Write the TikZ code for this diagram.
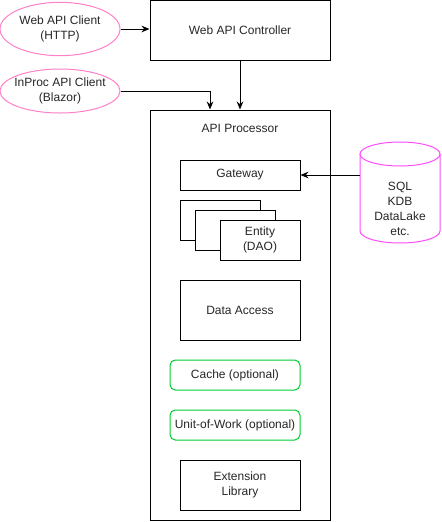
\documentclass[tikz,border=0pt]{standalone}
\usepackage{fontspec}
\setmainfont{Liberation Sans}
\usetikzlibrary{arrows.meta,shapes.geometric,positioning}
\definecolor{pinkc}{HTML}{FF80C8}
\definecolor{magc}{HTML}{FF4DFF}
\definecolor{greenc}{HTML}{00CC33}
\tikzset{
  txt/.style={font=\fontsize{9}{11.25}\selectfont, align=center, text=black!85},
  box/.style={draw, line width=0.75pt, rectangle, inner sep=0pt, txt},
  optbox/.style={draw=greenc, line width=0.75pt, rounded corners=4pt, rectangle, inner sep=0pt, txt},
  client/.style={draw=pinkc, line width=0.75pt, ellipse, inner xsep=-3pt, inner ysep=0pt, minimum width=90pt, txt},
  arr/.style={line width=0.75pt, -{Stealth[length=6pt,width=5pt]}}
}
\begin{document}
\begin{tikzpicture}[x=0.75pt,y=-0.75pt]
\useasboundingbox (0,0) rectangle (442,522);
% clients
\node[client, minimum height=40pt] (web) at (60,29) {Web API Client\\(HTTP)};
\node[client, minimum height=33pt] (inproc) at (60,91) {InProc API Client\\(Blazor)};
% controller
\node[box, minimum width=135pt, minimum height=45pt] (ctrl) at (240,30) {Web API Controller};
% processor
\node[box, minimum width=135pt, minimum height=307.5pt] (proc) at (240,315) {};
\node[txt] (proctitle) at (240,128) {API Processor};
\node[box, minimum width=90pt, minimum height=22.5pt] (gw) at (240,175) {Gateway};
\node[box, minimum width=60pt, minimum height=30pt] (ent1) at (220,220) {};
\node[box, fill=white, minimum width=60pt, minimum height=30pt] (ent2) at (235,230) {};
\node[box, fill=white, minimum width=60pt, minimum height=30pt] (ent3) at (260,240) {Entity\\(DAO)};
\node[box, minimum width=90pt, minimum height=45pt] (da) at (240,310) {Data Access};
\node[optbox, minimum width=97.5pt, minimum height=22.5pt] (cache) at (235,375) {Cache (optional)};
\node[optbox, minimum width=97.5pt, minimum height=22.5pt] (uow) at (235,425) {Unit-of-Work (optional)};
\node[box, minimum width=90pt, minimum height=37.5pt] (ext) at (240,485) {Extension\\Library};
% cylinder
\draw[magc, line width=0.75pt] (360,154) -- (360,231) arc[start angle=180, end angle=360, x radius=30pt, y radius=9pt] -- (440,154);
\draw[magc, line width=0.75pt] (400,154) ellipse [x radius=30pt, y radius=9pt];
\node[txt] (db) at (400,209) {SQL\\KDB\\DataLake\\etc.};
\coordinate (dbleft) at (360,175);
% connectors
\draw[arr] (web.east) -- (ctrl.west |- web.east);
\draw[arr] (ctrl.south) -- (proc.north);
\draw[arr] (inproc.east) -| ([xshift=-22.5pt]proc.north);
\draw[arr] (dbleft) -- (gw.east);
\end{tikzpicture}
\end{document}
